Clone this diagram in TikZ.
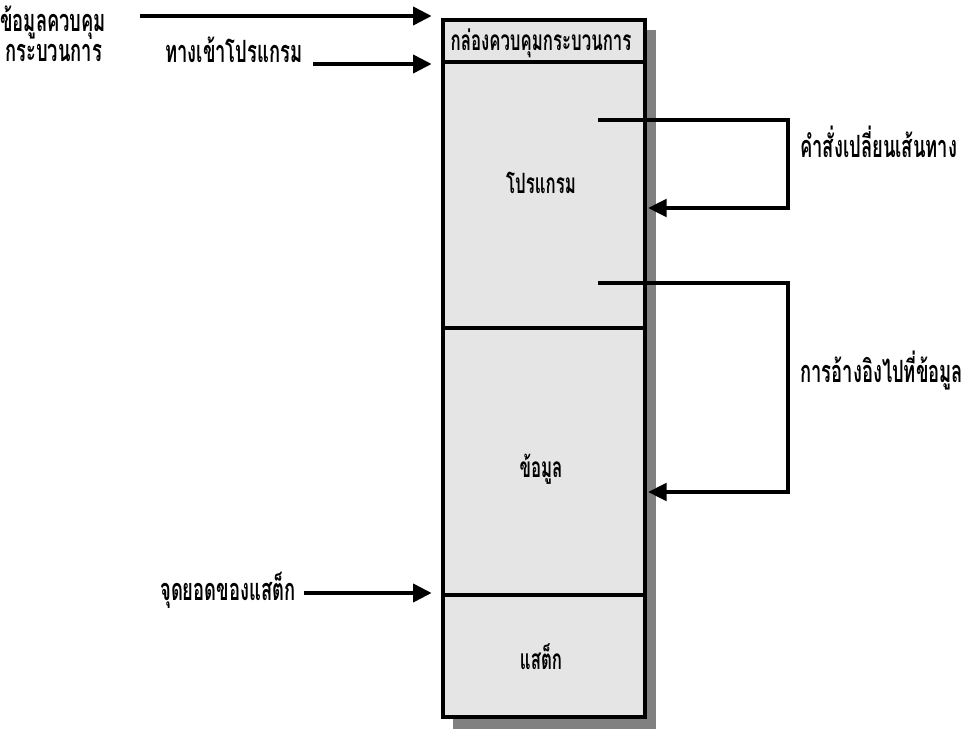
\documentclass[tikz,border=0pt]{standalone}
\usepackage{fontspec}
\newfontfamily\thai[Script=Thai,FakeStretch=0.6]{Loma}
\usetikzlibrary{arrows.meta}

\tikzset{
  lbl/.style={font=\thai\bfseries\fontsize{23pt}{24pt}\selectfont, inner sep=0pt, anchor=base west},
  inlbl/.style={font=\thai\bfseries\fontsize{21pt}{22pt}\selectfont, inner sep=0pt},
  sect/.style={draw=black, line width=3pt, fill=black!10, minimum width=151.5pt, inner sep=0pt, anchor=north west},
  arr/.style={line width=3pt, -{Triangle[length=14pt,width=13.5pt]}},
  loop/.style={line width=3pt, -{Triangle[length=14pt,width=13pt]}},
}

\begin{document}
\begin{tikzpicture}[x=0.75pt,y=-0.75pt]
  \useasboundingbox (0,0) rectangle (974,731);

  % drop shadow of the process control block
  \fill[black!50] (453,30) rectangle (656,729);

  % sections of the process
  \node[sect, minimum height=31.5pt]   (pcb)   at (441,18)  {};
  \node[sect, minimum height=199.5pt]  (prog)  at (441,60)  {};
  \node[sect, minimum height=200.25pt] (data)  at (441,326) {};
  \node[sect, minimum height=91.5pt]   (stack) at (441,593) {};

  \node[inlbl] (tpcb)   at (541,43)  {กล่องควบคุมกระบวนการ};
  \node[inlbl] (tprog)  at (541,183) {โปรแกรม};
  \node[inlbl] (tdata)  at (541,469) {ข้อมูล};
  \node[inlbl] (tstack) at (541,657) {แสต็ก};

  % labels on the left
  \node[lbl] (ctl)   at (0,32) {ข้อมูลควบคุม};
  \node[lbl] (ctl2)  at (5,62) {กระบวนการ};
  \node[lbl] (entry) at (165,63) {ทางเข้าโปรแกรม};
  \node[lbl] (top)   at (160,600) {จุดยอดของแสต็ก};

  \coordinate (ctlstart) at (140,16);
  \draw[arr, shorten >=7pt] (ctlstart) -- (ctlstart -| pcb.north west);
  \draw[arr, shorten >=7pt] ([xshift=8pt]entry.base east |- pcb.south west) -- (pcb.south west);
  \draw[arr, shorten >=7pt] ([xshift=6pt]top.base east |- stack.north west) -- (stack.north west);

  % jumps inside the program and references to the data
  \coordinate (j1) at (598,120);
  \coordinate (j1e) at (648,208);
  \coordinate (r1) at (598,283);
  \coordinate (r1e) at (648,492);
  \draw[loop] (j1) -| (788,164) |- (j1e);
  \draw[loop] (r1) -| (788,390) |- (r1e);

  \node[lbl] (tjump) at (800,157) {คำสั่งเปลี่ยนเส้นทาง};
  \node[lbl] (tref)  at (800,382) {การอ้างอิงไปที่ข้อมูล};
\end{tikzpicture}
\end{document}
